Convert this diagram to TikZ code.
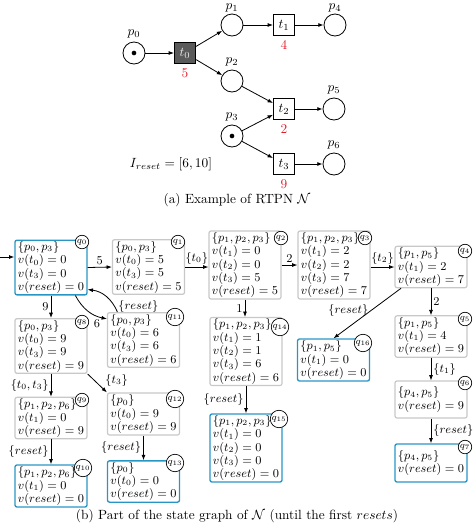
\documentclass[tikz,border=0pt]{standalone}
\usetikzlibrary{arrows.meta}
\definecolor{fblue}{RGB}{40,150,196}
\definecolor{fgray}{RGB}{200,200,200}
\definecolor{fred}{RGB}{225,30,45}
\definecolor{tgray}{RGB}{90,90,90}
\begin{document}
\begin{tikzpicture}[x=0.75pt,y=-0.75pt,
 >={Latex[length=4pt,width=3pt]},
 place/.style={circle,draw,line width=0.6pt,minimum size=16.5pt,inner sep=0pt},
 trans/.style={draw,line width=0.6pt,minimum size=16pt,inner sep=0pt},
 token/.style={circle,fill,inner sep=0pt,minimum size=3.5pt},
 num/.style={text=fred},
 arc/.style={->,line width=0.6pt},
 st/.style={draw=fgray,line width=0.9pt,rounded corners=1.5pt,align=left,inner xsep=1.5pt,inner ysep=1pt,minimum width=54pt,font=\fontsize{9.2}{8.6}\selectfont},
 fin/.style={st,draw=fblue,line width=1pt},
 ql/.style={circle,draw,fill=white,line width=0.5pt,inner sep=0.5pt,font=\fontsize{7.5}{7.5}\selectfont},
 tr/.style={->,line width=0.6pt},
 el/.style={font=\fontsize{9.2}{8.6}\selectfont,inner sep=1.5pt}
]
\useasboundingbox (0,0) rectangle (474,526);
% ---- Petri net
\node[place,label={[inner sep=2.5pt]above:$p_0$}] (p0) at (134,53) {};
\node[token] (k0) at (p0) {};
\node[trans,fill=tgray,text=white!85!gray,label={[num]below:$5$}] (t0) at (185,53) {$t_0$};
\node[place,label={[inner sep=0.8pt]above:$p_1$}] (p1) at (232,25) {};
\node[trans,label={[num]below:$4$}] (t1) at (284,25) {$t_1$};
\node[place,label={[inner sep=0.8pt]above:$p_4$}] (p4) at (335,25) {};
\node[place,label={[inner sep=2.5pt]above:$p_2$}] (p2) at (232,81) {};
\node[trans,label={[num]below:$2$}] (t2) at (284,109) {$t_2$};
\node[place,label={[inner sep=2.5pt]above:$p_5$}] (p5) at (334,109) {};
\node[place,label={[inner sep=2.5pt]above:$p_3$}] (p3) at (232,136) {};
\node[token] (k3) at (p3) {};
\node[trans,label={[num]below:$9$}] (t3) at (284,164) {$t_3$};
\node[place,label={[inner sep=2.5pt]above:$p_6$}] (p6) at (334,164) {};
\draw[arc] (p0) -- (t0);
\draw[arc] (t0) -- (p1);
\draw[arc] (t0) -- (p2);
\draw[arc] (p1) -- (t1);
\draw[arc] (t1) -- (p4);
\draw[arc] (p2) -- (t2);
\draw[arc] (p3) -- (t2);
\draw[arc] (p3) -- (t3);
\draw[arc] (t2) -- (p5);
\draw[arc] (t3) -- (p6);
\node (ir) at (171,164) {$I_{reset} = [6,10]$};
\node (capa) at (237,200) {(a) Example of RTPN $\mathcal{N}$};
% ---- state graph
\node[fin,minimum height=39.75pt] (q0) at (51,267.5) {$\{p_0,p_3\}$\\$v(t_0)=0$\\$v(t_3)=0$\\$v(reset)=0$};
\node[st,minimum height=39pt] (q1) at (148.5,267) {$\{p_0,p_3\}$\\$v(t_0)=5$\\$v(t_3)=5$\\$v(reset)=5$};
\node[st,minimum height=45pt] (q2) at (245,265) {$\{p_1,p_2,p_3\}$\\$v(t_1)=0$\\$v(t_2)=0$\\$v(t_3)=5$\\$v(reset)=5$};
\node[st,minimum height=45pt] (q3) at (334,265) {$\{p_1,p_2,p_3\}$\\$v(t_1)=2$\\$v(t_2)=2$\\$v(t_3)=7$\\$v(reset)=7$};
\node[st,minimum height=30pt] (q4) at (431,267) {$\{p_1,p_5\}$\\$v(t_1)=2$\\$v(reset)=7$};
\node[st,minimum height=27.75pt] (q5) at (431,336.5) {$\{p_1,p_5\}$\\$v(t_1)=4$\\$v(reset)=9$};
\node[st,minimum height=27.75pt] (q6) at (431,399.5) {$\{p_4,p_5\}$\\$v(reset)=9$};
\node[fin,minimum height=28.5pt] (q7) at (431,463) {$\{p_4,p_5\}$\\$v(reset)=0$};
\node[st,minimum height=39pt] (q8) at (51,346) {$\{p_0,p_3\}$\\$v(t_0)=9$\\$v(t_3)=9$\\$v(reset)=9$};
\node[st,minimum height=30pt] (q9) at (51,418) {$\{p_1,p_2,p_6\}$\\$v(t_1)=0$\\$v(reset)=9$};
\node[fin,minimum height=31.5pt] (q10) at (51,486) {$\{p_1,p_2,p_6\}$\\$v(t_1)=0$\\$v(reset)=0$};
\node[st,minimum height=37.5pt] (q11) at (143.5,340) {$\{p_0,p_3\}$\\$v(t_0)=6$\\$v(t_3)=6$\\$v(reset)=6$};
\node[st,minimum height=31.5pt] (q12) at (143.5,414) {$\{p_0\}$\\$v(t_0)=9$\\$v(reset)=9$};
\node[fin,minimum height=30.75pt] (q13) at (143.5,481.5) {$\{p_0\}$\\$v(t_0)=0$\\$v(reset)=0$};
\node[st,minimum height=42.75pt] (q14) at (246,351.5) {$\{p_1,p_2,p_3\}$\\$v(t_1)=1$\\$v(t_2)=1$\\$v(t_3)=6$\\$v(reset)=6$};
\node[fin,minimum height=48pt] (q15) at (246,448) {$\{p_1,p_2,p_3\}$\\$v(t_1)=0$\\$v(t_2)=0$\\$v(t_3)=0$\\$v(reset)=0$};
\node[fin,minimum height=31.5pt] (q16) at (333.5,360) {$\{p_1,p_5\}$\\$v(t_1)=0$\\$v(reset)=0$};
% labels
\node[ql] (l0) at (82,242) {$q_0$};
\node[ql] (l1) at (178,242) {$q_1$};
\node[ql] (l2) at (281,238) {$q_2$};
\node[ql] (l3) at (365,238) {$q_3$};
\node[ql] (l4) at (465,251) {$q_4$};
\node[ql] (l5) at (465,319) {$q_5$};
\node[ql] (l6) at (465,383) {$q_6$};
\node[ql] (l7) at (465,447) {$q_7$};
\node[ql] (l8) at (82,322) {$q_8$};
\node[ql] (l9) at (82,400) {$q_9$};
\node[ql] (l10) at (83,468) {$q_{10}$};
\node[ql] (l11) at (175,317) {$q_{11}$};
\node[ql] (l12) at (175,399) {$q_{12}$};
\node[ql] (l13) at (175,463) {$q_{13}$};
\node[ql] (l14) at (280,327) {$q_{14}$};
\node[ql] (l15) at (279,419) {$q_{15}$};
\node[ql] (l16) at (363,343) {$q_{16}$};
% edges
\coordinate (init) at (0,257);
\draw[tr] (init) -- (init -| q0.west);
\draw[tr] (q0.east) -- node[el,above]{$5$} (q1.west);
\draw[tr] (q1.east) -- node[el,above]{$\{t_0\}$} (q1.east -| q2.west);
\draw[tr] (q2.east) -- node[el,above]{$2$} (q3.west);
\draw[tr] (q4.west -| q3.east) -- node[el,above]{$\{t_2\}$} (q4.west);
\draw[tr] (q0) -- node[el,left]{$9$} (q8);
\draw[tr] (q8) -- node[el,left]{$\{t_0,t_3\}$} (q9);
\draw[tr] (q9) -- node[el,left]{$\{reset\}$} (q10);
\draw[tr] (q12) -- node[el,left]{$\{reset\}$} (q13);
\draw[tr] (q2.south) -- node[el,left]{$1$} (q2.south |- q14.north);
\draw[tr] (q14) -- node[el,left]{$\{reset\}$} (q15);
\draw[tr] (q4) -- node[el,right]{$2$} (q5);
\draw[tr] (q5) -- node[el,right]{$\{t_1\}$} (q6);
\draw[tr] (q6) -- node[el,right]{$\{reset\}$} (q7);
\draw[tr] (q0.-49) to[bend right=25] node[el,pos=0.9,below left]{$6$} (q11.150);
\draw[tr] (q11.133) to[bend right=30] node[el,pos=0.15,right,xshift=1pt]{$\{reset\}$} (q0.-31);
\draw[tr] (q8.south east) -- node[el,pos=0.8,above right]{$\{t_3\}$} (q12.north west);
\draw[tr] ([xshift=5pt]q4.south west) -- node[el,pos=0.45,left]{$\{reset\}$} (q16.north);
\node (capb) at (237,516) {(b) Part of the state graph of $\mathcal{N}$ (until the first $resets$)};
\end{tikzpicture}
\end{document}
